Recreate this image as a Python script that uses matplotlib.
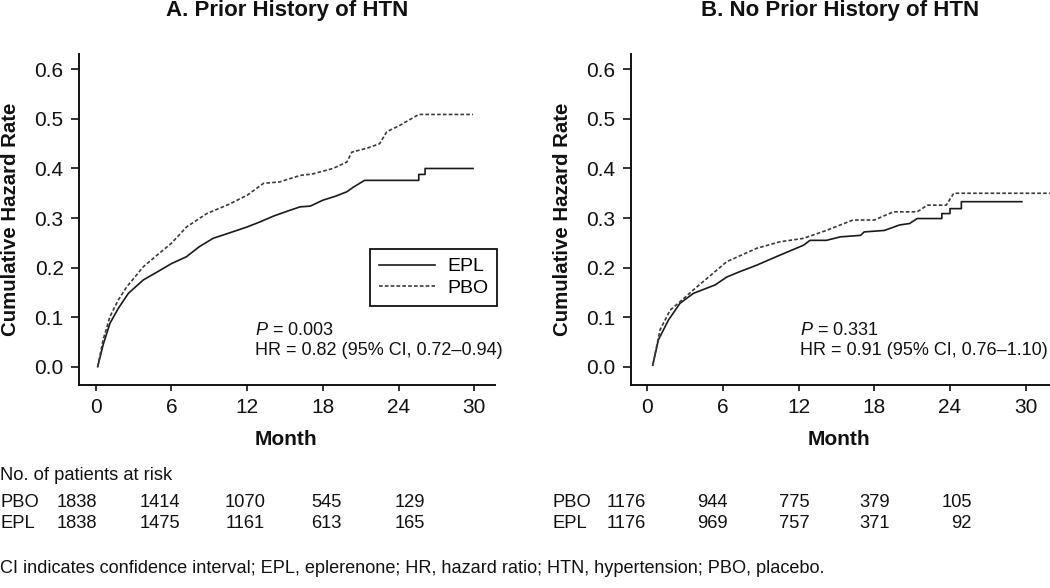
import numpy as np
import matplotlib
matplotlib.use('Agg')
import matplotlib.pyplot as plt

plt.rcParams['font.family'] = ['Liberation Sans', 'DejaVu Sans']
plt.rcParams['font.size'] = 13
plt.rcParams['mathtext.fontset'] = 'custom'
plt.rcParams['mathtext.it'] = 'Liberation Sans:italic'
plt.rcParams['mathtext.rm'] = 'Liberation Sans'

## data (month, cumulative hazard)

# A. prior history of HTN
a_epl_month = [0.16, 0.6, 1.13, 1.8, 2.59, 3.77, 5.0, 6.0, 7.2, 8.2, 9.3, 10.6, 12.0, 13.0,
               14.1, 15.2, 16.2, 17.0, 18.0, 19.0, 19.9, 20.4, 21.3, 25.6, 25.6, 26.1, 26.1, 29.9]
a_epl_rate = [0.0, 0.045, 0.0875, 0.118, 0.148, 0.175, 0.193, 0.208, 0.222, 0.242, 0.259, 0.270,
              0.282, 0.292, 0.304, 0.314, 0.3226, 0.324, 0.336, 0.344, 0.353, 0.362, 0.376, 0.376,
              0.388, 0.388, 0.400, 0.400]
a_pbo_month = [0.16, 0.6, 1.13, 1.8, 2.46, 3.77, 5.0, 6.0, 7.2, 8.8, 10.5, 12.0, 13.3, 14.6,
               16.2, 17.2, 18.8, 19.9, 20.3, 21.5, 22.5, 23.06, 24.1, 25.6, 29.9]
a_pbo_rate = [0.0, 0.055, 0.101, 0.135, 0.161, 0.2016, 0.228, 0.249, 0.282, 0.309, 0.327, 0.346,
              0.370, 0.373, 0.386, 0.389, 0.400, 0.413, 0.433, 0.441, 0.450, 0.474, 0.487, 0.509, 0.509]

# B. no prior history of HTN
b_epl_month = [0.43, 0.87, 1.67, 2.59, 3.65, 5.37, 6.3, 7.35, 8.68, 10.5, 12.37, 12.9, 14.2,
               15.3, 16.9, 17.2, 18.8, 20.0, 20.8, 21.4, 23.35, 23.35, 24.0, 24.0, 24.9, 24.9, 29.7]
b_epl_rate = [0.003, 0.054, 0.094, 0.128, 0.148, 0.165, 0.181, 0.192, 0.205, 0.225, 0.245, 0.255,
              0.255, 0.262, 0.265, 0.272, 0.275, 0.286, 0.289, 0.299, 0.299, 0.309, 0.309, 0.319,
              0.319, 0.333, 0.333]
b_pbo_month = [0.43, 1.0, 1.8, 2.59, 3.65, 5.37, 6.3, 8.68, 10.5, 12.37, 14.2, 16.3, 18.0,
               19.5, 21.4, 22.2, 23.7, 24.3, 32.0]
b_pbo_rate = [0.003, 0.074, 0.114, 0.131, 0.155, 0.192, 0.212, 0.239, 0.252, 0.259, 0.275, 0.296,
              0.296, 0.3125, 0.3125, 0.326, 0.326, 0.350, 0.350]

x_ticks = [0, 6, 12, 18, 24, 30]
y_ticks = [0.0, 0.1, 0.2, 0.3, 0.4, 0.5, 0.6]

titles = ['A. Prior History of HTN', 'B. No Prior History of HTN']
stats = [('0.003', 'HR = 0.82 (95% CI, 0.72\u20130.94)'),
         ('0.331', 'HR = 0.91 (95% CI, 0.76\u20131.10)')]

risk_groups = ['PBO', 'EPL']
a_risk = [[1838, 1414, 1070, 545, 129], [1838, 1475, 1161, 613, 165]]
b_risk = [[1176, 944, 775, 379, 105], [1176, 969, 757, 371, 92]]

footnote = 'CI indicates confidence interval; EPL, eplerenone; HR, hazard ratio; HTN, hypertension; PBO, placebo.'

W, H = 1050, 588
fig = plt.figure(figsize=(W / 100, H / 100), dpi=100)

def fx(px):
    return px / W

def fy(py):
    return 1 - py / H

ink = '#111111'
solid_col = '#1a1a1a'
dash_col = '#3a3a3a'
dash = (0, (2.2, 1.3))

panels = [
    dict(left=79, right=495, xmax=31.64, epl=(a_epl_month, a_epl_rate), pbo=(a_pbo_month, a_pbo_rate),
         ylab_x=11, stat_x=255),
    dict(left=630.7, right=1050, xmax=31.93, epl=(b_epl_month, b_epl_rate), pbo=(b_pbo_month, b_pbo_rate),
         ylab_x=563, stat_x=800),
]
top, bottom = 54, 385.3

for i, p in enumerate(panels):
    ax = fig.add_axes([fx(p['left']), fy(bottom), fx(p['right'] - p['left']), (bottom - top) / H])
    ax.plot(*p['epl'], color=solid_col, lw=1.2, label='EPL')
    ax.plot(*p['pbo'], color=dash_col, lw=1.2, linestyle=dash, label='PBO')
    ax.set_xlim(-1.32, p['xmax'])
    ax.set_ylim(-0.0375, 0.631)
    ax.set_xticks(x_ticks)
    ax.set_yticks(y_ticks)
    ax.set_yticklabels(['%.1f' % v for v in y_ticks])
    for s in ['top', 'right']:
        ax.spines[s].set_visible(False)
    for s in ['left', 'bottom']:
        ax.spines[s].set_linewidth(1.4)
        ax.spines[s].set_color(ink)
    ax.tick_params(axis='both', width=1.2, labelsize=15, colors=ink)
    ax.tick_params(axis='y', length=6, pad=5)
    ax.tick_params(axis='x', length=4, pad=5)

    cx = (p['left'] + p['right']) / 2
    fig.text(fx(cx), fy(16), titles[i], ha='center', va='baseline',
             fontsize=16, fontweight='bold', color=ink)
    fig.text(fx(p['ylab_x']), fy(219), 'Cumulative Hazard Rate', rotation=90, ha='center',
             va='center', fontsize=14.7, fontweight='bold', color=ink)
    fig.text(fx(cx - 1), fy(445), 'Month', ha='center', va='baseline',
             fontsize=15, fontweight='bold', color=ink)
    fig.text(fx(p['stat_x']), fy(335), r'$\it{P}$ = ' + stats[i][0], ha='left', va='baseline',
             fontsize=13, color=ink)
    fig.text(fx(p['stat_x']), fy(355), stats[i][1], ha='left', va='baseline',
             fontsize=13, color=ink)

    if i == 0:
        leg = ax.legend(loc='upper right', bbox_to_anchor=((497 - 79) / 416, (bottom - 249) / (bottom - top)),
                        borderaxespad=0, fancybox=False, framealpha=1, edgecolor=ink,
                        fontsize=14, handlelength=2.9, handletextpad=0.6, borderpad=0.45,
                        labelspacing=0.2)
        leg.get_frame().set_linewidth(1.3)

# at-risk table
fig.text(0, fy(480), 'No. of patients at risk', ha='left', va='baseline', fontsize=13.2, color=ink)
a_cols = [97, 180, 265, 342, 425]
b_cols = [646, 728, 810, 890, 972]
row_y = [507, 528]
for r, grp in enumerate(risk_groups):
    fig.text(0, fy(row_y[r]), grp, ha='left', va='baseline', fontsize=13.2, color=ink)
    fig.text(fx(553), fy(row_y[r]), grp, ha='left', va='baseline', fontsize=13.2, color=ink)
    for c, n in enumerate(a_risk[r]):
        fig.text(fx(a_cols[c]), fy(row_y[r]), str(n), ha='right', va='baseline', fontsize=13.2, color=ink)
    for c, n in enumerate(b_risk[r]):
        fig.text(fx(b_cols[c]), fy(row_y[r]), str(n), ha='right', va='baseline', fontsize=13.2, color=ink)

fig.text(0, fy(573), footnote, ha='left', va='baseline', fontsize=13.1, color=ink)

fig.savefig('out.png', dpi=100)
